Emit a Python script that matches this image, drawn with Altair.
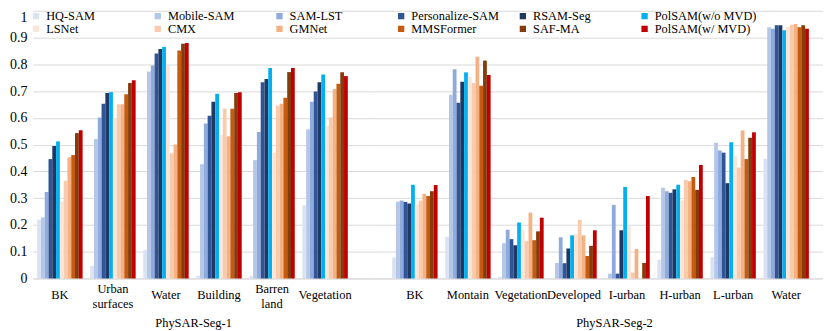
import altair as alt
import pandas as pd

FONT = "Liberation Serif, Times New Roman, serif"

models = ["HQ-SAM", "Mobile-SAM", "SAM-LST", "Personalize-SAM", "RSAM-Seg", "PolSAM(w/o MVD)",
          "LSNet", "CMX", "GMNet", "MMSFormer", "SAF-MA", "PolSAM(w/ MVD)"]
colors = ["#dae3f3", "#b4c7e7", "#8faadc", "#2f5597", "#203864", "#00b0f0",
          "#fbe5d6", "#f8cbad", "#f4b183", "#c55a11", "#843c0c", "#c00000"]

seg1_categories = ["BK", "Urban surfaces", "Water", "Building", "Barren land", "Vegetation"]
seg2_categories = ["BK", "Montain", "Vegetation", "Developed", "I-urban", "H-urban", "L-urban", "Water"]

# PhySAR-Seg-1 values (one list per category, in model order)
s1_bk = [0.220, 0.228, 0.323, 0.446, 0.495, 0.512, 0.287, 0.365, 0.453, 0.461, 0.543, 0.554]
s1_urban = [0.047, 0.521, 0.601, 0.653, 0.693, 0.696, 0.600, 0.651, 0.651, 0.688, 0.730, 0.740]
s1_water = [0.107, 0.773, 0.796, 0.840, 0.857, 0.865, 0.794, 0.468, 0.500, 0.852, 0.877, 0.880]
s1_building = [0.010, 0.427, 0.579, 0.608, 0.660, 0.690, 0.536, 0.635, 0.531, 0.634, 0.693, 0.696]
s1_barren = [0.010, 0.442, 0.547, 0.733, 0.745, 0.786, 0.470, 0.645, 0.653, 0.675, 0.771, 0.786]
s1_vegetation = [0.273, 0.557, 0.660, 0.698, 0.733, 0.762, 0.570, 0.601, 0.708, 0.727, 0.770, 0.756]

# PhySAR-Seg-2 values
s2_bk = [0.078, 0.287, 0.291, 0.286, 0.280, 0.350, 0.277, 0.291, 0.316, 0.308, 0.326, 0.349]
s2_montain = [0.156, 0.686, 0.782, 0.656, 0.735, 0.770, 0.754, 0.730, 0.828, 0.720, 0.814, 0.760]
s2_vegetation = [0.006, 0.132, 0.182, 0.147, 0.124, 0.209, 0.182, 0.140, 0.246, 0.143, 0.176, 0.227]
s2_developed = [0.000, 0.058, 0.154, 0.057, 0.112, 0.161, 0.165, 0.219, 0.161, 0.084, 0.122, 0.180]
s2_iurban = [0.000, 0.018, 0.275, 0.018, 0.180, 0.342, 0.197, 0.022, 0.110, 0.000, 0.058, 0.308]
s2_hurban = [0.070, 0.339, 0.326, 0.320, 0.333, 0.350, 0.291, 0.368, 0.363, 0.379, 0.331, 0.424]
s2_lurban = [0.079, 0.507, 0.478, 0.470, 0.356, 0.509, 0.459, 0.414, 0.553, 0.446, 0.526, 0.546]
s2_water = [0.447, 0.938, 0.933, 0.946, 0.946, 0.927, 0.940, 0.948, 0.951, 0.938, 0.946, 0.933]

y_ticks = [0, 0.1, 0.2, 0.3, 0.4, 0.5, 0.6, 0.7, 0.8, 0.9, 1]

rows = []
for cat, vals in zip(seg1_categories, [s1_bk, s1_urban, s1_water, s1_building, s1_barren, s1_vegetation]):
    for m, v in zip(models, vals):
        rows.append({"dataset": "PhySAR-Seg-1", "category": cat, "model": m, "value": v})
for cat, vals in zip(seg2_categories, [s2_bk, s2_montain, s2_vegetation, s2_developed,
                                       s2_iurban, s2_hurban, s2_lurban, s2_water]):
    for m, v in zip(models, vals):
        rows.append({"dataset": "PhySAR-Seg-2", "category": cat, "model": m, "value": v})
df = pd.DataFrame(rows)

color = alt.Color(
    "model:N",
    scale=alt.Scale(domain=models, range=colors),
    title=None,
    legend=alt.Legend(
        orient="none", legendX=-3, legendY=-1, direction="horizontal", columns=6,
        gridAlign="all", columnPadding=3.3, rowPadding=-1, symbolType="square",
        symbolSize=40, symbolStrokeWidth=0, labelFont=FONT, labelFontSize=12.4,
        labelColor="#000000", labelOffset=4, padding=0,
    ),
)

xoff = alt.XOffset("model:N", sort=models,
                   scale=alt.Scale(domain=models, paddingInner=0, paddingOuter=0))

two_line = "indexof(datum.value, ' ') >= 0"


def panel(dataset, cats, width, po, align, show_y, title_x):
    x = alt.X(
        "category:N", sort=cats,
        scale=alt.Scale(domain=cats, paddingInner=0.143, paddingOuter=po, align=align),
        axis=alt.Axis(
            title=dataset, labelExpr="split(datum.label, ' ')", labelAngle=0,
            labelFont=FONT, labelFontSize=12.5, labelColor="#000000",
            labelBaseline="middle", labelLineHeight=15,
            labelPadding={"condition": {"test": two_line, "value": 9.7}, "value": 16.3},
            ticks=False, tickSize=0, domainColor="#d9d9d9", domainWidth=1,
            titleFont=FONT, titleFontSize=12.5, titleFontWeight="normal",
            titleColor="#000000", titleX=title_x, titleY=44, titleBaseline="middle",
            titleAlign="center",
        ),
    )
    if show_y:
        yaxis = alt.Axis(values=y_ticks, format=".1~f", labelFont=FONT, labelFontSize=14,
                         labelColor="#000000", labelPadding=6, ticks=False, domain=False,
                         labelBaseline={"condition": {"test": "datum.value >= 1", "value": "top"},
                                        "value": "middle"},
                         grid=True, gridColor="#d9d9d9", gridWidth=1,
                         minExtent=25, maxExtent=25)
    else:
        yaxis = alt.Axis(values=y_ticks, labels=False, ticks=False, domain=False,
                         grid=True, gridColor="#d9d9d9", gridWidth=1,
                         minExtent=0, maxExtent=0)
    y = alt.Y("value:Q", title=None, scale=alt.Scale(domain=[0, 1], nice=False), axis=yaxis)
    return (
        alt.Chart(df)
        .transform_filter(alt.datum.dataset == dataset)
        .mark_bar()
        .encode(x=x, y=y, xOffset=xoff, color=color)
        .properties(width=width, height=269)
    )


left = panel("PhySAR-Seg-1", seg1_categories, 339, 0.2514, 0.16, True, 161)
right = panel("PhySAR-Seg-2", seg2_categories, 455, 0.3396, 0.608, False, 245)

chart = (
    alt.hconcat(left, right, spacing=0)
    .properties(padding={"left": 0, "top": 1, "right": 0, "bottom": 0}, background="#ffffff")
    .configure_view(strokeWidth=0)
)

chart.save("out.html", embed_options={"renderer": "svg", "actions": False})
